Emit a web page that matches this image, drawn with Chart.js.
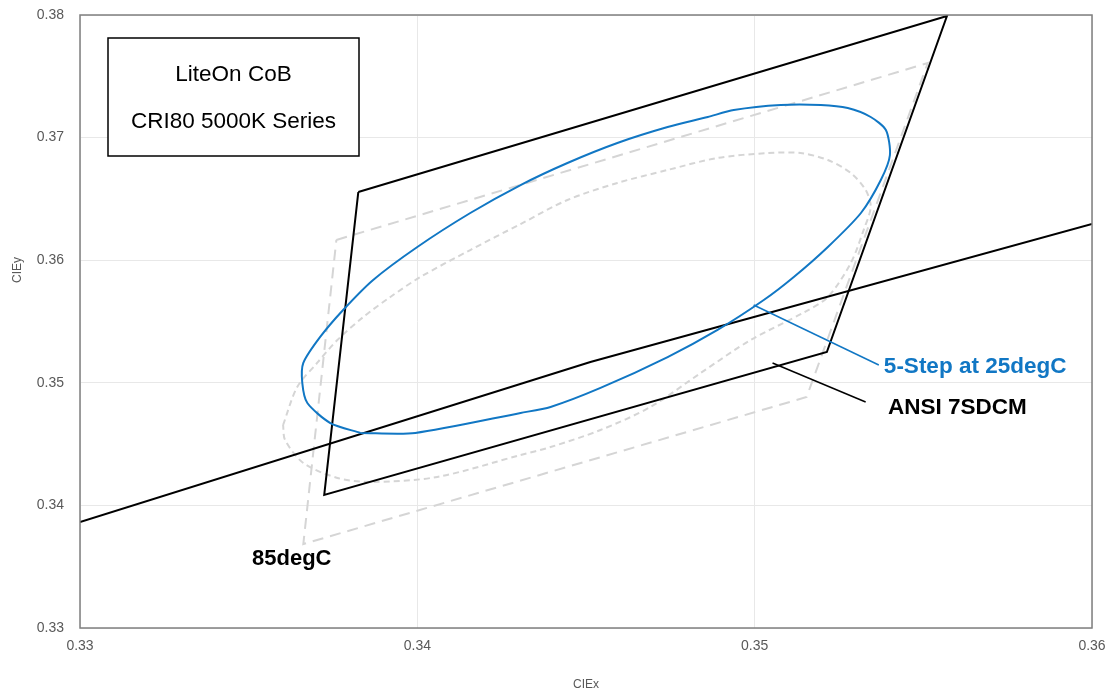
<!DOCTYPE html>
<html>
<head>
<meta charset="utf-8">
<script src="https://cdn.jsdelivr.net/npm/chart.js@4"></script>
<style>
  html, body { margin: 0; padding: 0; background: #fff; }
  #wrap { width: 1111px; height: 693px; }
</style>
</head>
<body>
<div id="wrap"><canvas id="cieChart" width="1111" height="693"></canvas></div>
<script>
// axis ticks
const xTicks = [0.33, 0.34, 0.35, 0.36];
const yTicks = [0.33, 0.34, 0.35, 0.36, 0.37, 0.38];

// 5-step ellipse at 25degC
const stepX = [0.33831, 0.33994, 0.34306, 0.34395, 0.34543, 0.34742, 0.34890, 0.35027, 0.35116, 0.35217,
               0.35315, 0.35374, 0.35401, 0.35389, 0.35344, 0.35276, 0.35196, 0.35077, 0.34938, 0.34861,
               0.34742, 0.34593, 0.34445, 0.34306, 0.34157, 0.34000, 0.33869, 0.33780, 0.33712, 0.33662,
               0.33659, 0.33674, 0.33742, 0.33831];
const stepY = [0.34591, 0.34591, 0.34754, 0.34803, 0.34958, 0.35210, 0.35431, 0.35675, 0.35863, 0.36108,
               0.36385, 0.36654, 0.36858, 0.37062, 0.37168, 0.37241, 0.37266, 0.37266, 0.37225, 0.37168,
               0.37086, 0.36956, 0.36793, 0.36613, 0.36385, 0.36108, 0.35839, 0.35594, 0.35374, 0.35162,
               0.34998, 0.34835, 0.34672, 0.34591];

// ANSI 7SDCM quadrangle
const ansiX = [0.33825, 0.35570, 0.35214, 0.33724, 0.33825];
const ansiY = [0.36556, 0.37992, 0.35251, 0.34085, 0.36556];

// black body locus
const locusX = [0.33000, 0.34513, 0.36000];
const locusY = [0.33865, 0.35170, 0.36295];

// 85degC quadrangle
const hotQuadX = [0.33760, 0.35513, 0.35154, 0.33662, 0.33760];
const hotQuadY = [0.36165, 0.37608, 0.34884, 0.33685, 0.36165];

// 85degC ellipse
const hotEllX = [0.33602, 0.33644, 0.33703, 0.33763, 0.33840, 0.33920, 0.34009, 0.34157, 0.34306, 0.34445,
                 0.34593, 0.34742, 0.34890, 0.35039, 0.35136, 0.35217, 0.35285, 0.35329, 0.35344, 0.35323,
                 0.35285, 0.35217, 0.35148, 0.34988, 0.34840, 0.34691, 0.34543, 0.34395, 0.34306, 0.34059,
                 0.33861, 0.33763, 0.33662, 0.33608, 0.33602];
const hotEllY = [0.34656, 0.34966, 0.35162, 0.35349, 0.35537, 0.35700, 0.35863, 0.36083, 0.36295, 0.36491,
                 0.36630, 0.36736, 0.36834, 0.36874, 0.36874, 0.36817, 0.36711, 0.36573, 0.36434, 0.36246,
                 0.35977, 0.35700, 0.35577, 0.35349, 0.35080, 0.34803, 0.34615, 0.34476, 0.34411, 0.34232,
                 0.34191, 0.34224, 0.34346, 0.34533, 0.34656];

// leader lines for the labels
const stepLeadX = [0.34997, 0.35368];
const stepLeadY = [0.35635, 0.35145];
const ansiLeadX = [0.35053, 0.35329];
const ansiLeadY = [0.35162, 0.34843];

function pts(xs, ys) {
    return xs.map((x, i) => ({ x: x, y: ys[i] }));
}

const BLUE = '#1177c4';
const GRAY = '#d5d5d5';
const FONT = '"Liberation Sans", Arial, sans-serif';

// frame, text box, labels and the y axis title
const decorPlugin = {
    id: 'decor',
    afterDatasetsDraw(chart) {
        const ctx = chart.ctx;
        const a = chart.chartArea;
        const xs = chart.scales.x, ys = chart.scales.y;
        ctx.save();

        ctx.strokeStyle = '#7f7f7f';
        ctx.lineWidth = 1.5;
        ctx.strokeRect(a.left, a.top, a.right - a.left, a.bottom - a.top);

        // title box
        const bx = a.left + 28, by = a.top + 23, bw = 251, bh = 118;
        ctx.fillStyle = '#fff';
        ctx.fillRect(bx, by, bw, bh);
        ctx.strokeStyle = '#000';
        ctx.lineWidth = 1.5;
        ctx.strokeRect(bx, by, bw, bh);
        ctx.fillStyle = '#000';
        ctx.font = '22.5px ' + FONT;
        ctx.textAlign = 'center';
        ctx.textBaseline = 'middle';
        ctx.fillText('LiteOn CoB', bx + bw / 2, by + 37);
        ctx.fillText('CRI80 5000K Series', bx + bw / 2, by + 84);

        ctx.textAlign = 'left';
        ctx.font = 'bold 22.5px ' + FONT;
        ctx.fillStyle = BLUE;
        ctx.fillText('5-Step at 25degC', xs.getPixelForValue(0.35383), ys.getPixelForValue(0.35129));
        ctx.fillStyle = '#000';
        ctx.fillText('ANSI 7SDCM', xs.getPixelForValue(0.35395), ys.getPixelForValue(0.34794));
        ctx.font = 'bold 22px ' + FONT;
        ctx.fillText('85degC', xs.getPixelForValue(0.33510), ys.getPixelForValue(0.33563));

        // y axis title
        ctx.translate(18, a.top + 255);
        ctx.rotate(-Math.PI / 2);
        ctx.textAlign = 'center';
        ctx.font = '12px ' + FONT;
        ctx.fillStyle = '#595959';
        ctx.fillText('CIEy', 0, 0);
        ctx.restore();
    }
};

const ctx = document.getElementById('cieChart').getContext('2d');
new Chart(ctx, {
    type: 'scatter',
    data: {
        datasets: [
            { label: '5-Step at 25degC', data: pts(stepX, stepY), borderColor: BLUE, borderWidth: 2, tension: 0.25 },
            { label: 'step leader', data: pts(stepLeadX, stepLeadY), borderColor: BLUE, borderWidth: 1.5 },
            { label: 'ANSI 7SDCM', data: pts(ansiX, ansiY), borderColor: '#000', borderWidth: 2 },
            { label: 'ansi leader', data: pts(ansiLeadX, ansiLeadY), borderColor: '#000', borderWidth: 1.5 },
            { label: 'locus', data: pts(locusX, locusY), borderColor: '#000', borderWidth: 2 },
            { label: '85degC ellipse', data: pts(hotEllX, hotEllY), borderColor: GRAY, borderWidth: 2, borderDash: [6, 4], tension: 0.3 },
            { label: '85degC quad', data: pts(hotQuadX, hotQuadY), borderColor: GRAY, borderWidth: 2, borderDash: [11, 7] }
        ].map(d => Object.assign({ showLine: true, pointRadius: 0, fill: false }, d))
    },
    options: {
        responsive: false,
        animation: false,
        layout: { padding: { top: 15, right: 19, left: 0, bottom: 0 } },
        plugins: { legend: { display: false }, tooltip: { enabled: false } },
        scales: {
            x: {
                type: 'linear',
                min: xTicks[0],
                max: xTicks[xTicks.length - 1],
                afterBuildTicks: s => { s.ticks = xTicks.map(v => ({ value: v })); },
                afterFit: s => { s.height = 65; s.paddingLeft = 0; s.paddingRight = 0; },
                ticks: {
                    padding: 10,
                    color: '#595959',
                    font: { family: FONT, size: 14 },
                    callback: v => v.toFixed(2)
                },
                grid: { color: '#e8e8e8', drawTicks: false },
                border: { display: false },
                title: {
                    display: true, text: 'CIEx', color: '#595959',
                    font: { family: FONT, size: 12 }, padding: { top: 0, bottom: 1 }
                }
            },
            y: {
                type: 'linear',
                min: yTicks[0],
                max: yTicks[yTicks.length - 1],
                afterBuildTicks: s => { s.ticks = yTicks.map(v => ({ value: v })); },
                afterFit: s => { s.width = 80; s.paddingTop = 0; s.paddingBottom = 0; },
                ticks: {
                    padding: 16,
                    color: '#595959',
                    font: { family: FONT, size: 14 },
                    callback: v => v.toFixed(2)
                },
                grid: { color: '#e8e8e8', drawTicks: false },
                border: { display: false }
            }
        }
    },
    plugins: [decorPlugin]
});
</script>
</body>
</html>
